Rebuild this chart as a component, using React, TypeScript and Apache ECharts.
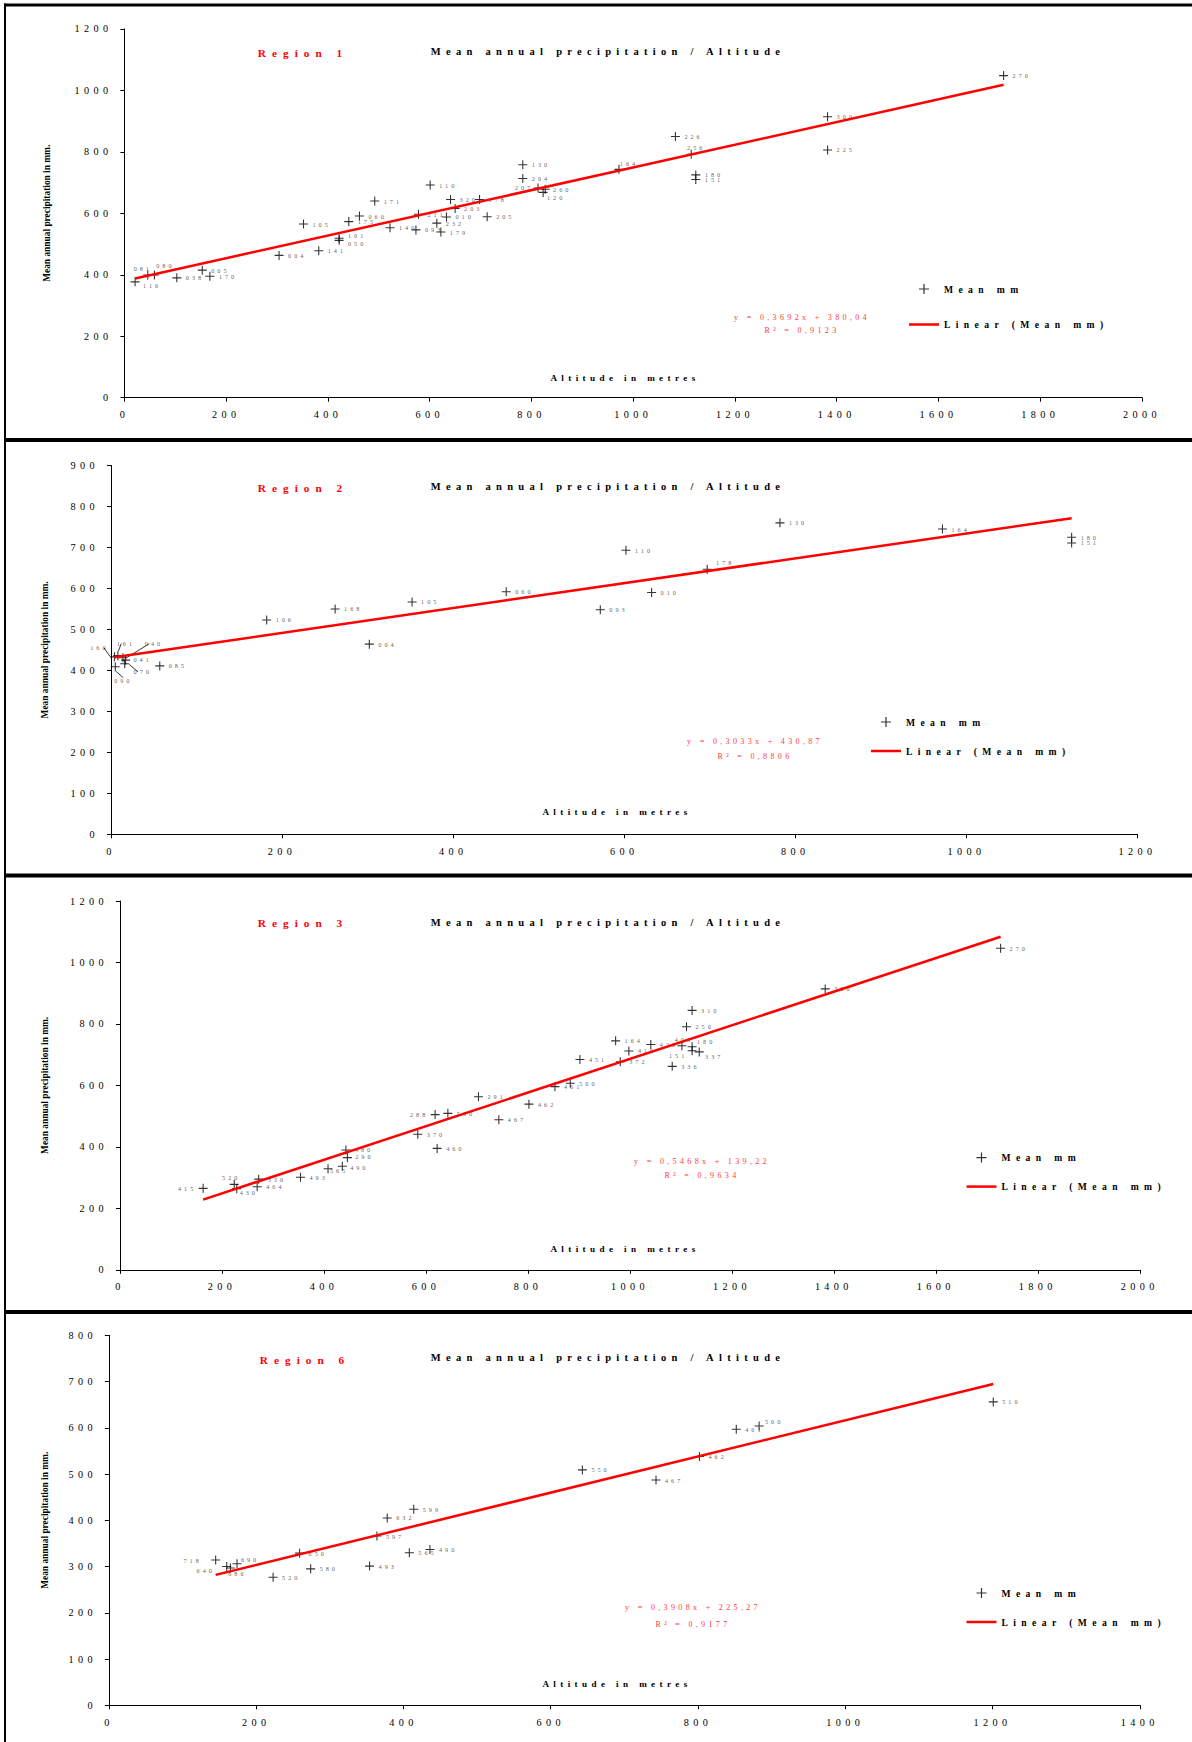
import React, { useEffect, useRef } from 'react';
import * as echarts from 'echarts';

// ---------------- DATA ----------------
// Region 1
const r1Codes = ['116','081','080','038','005','170','004','141','105','101','050','175','060','171','140','093','211','110','232','179','010','203','320','178','205','130','204','207','260','120','164','226','256','180','151','300','225','270'];
const r1Altitude = [21,46,59,103,153,168,304,382,352,422,422,441,462,492,522,573,578,601,614,622,633,650,641,698,713,783,783,813,827,823,972,1083,1114,1123,1123,1382,1382,1728];
const r1Mean = [377,399,399,390,415,395,463,478,565,519,512,573,591,640,553,546,597,692,568,539,588,616,645,645,589,758,713,682,678,668,743,850,792,725,710,914,806,1048];

// Region 2
const r2Codes = ['090','160','161','040','041','070','085','106','168','004','105','060','093','110','010','178','130','164','180','151'];
const r2Altitude = [5,4,8,14,17,16,57,182,262,302,352,462,572,602,632,697,782,972,1123,1123];
const r2Mean = [409,433,436,431,425,416,411,523,550,464,567,592,548,693,590,647,760,745,725,711];

// Region 3
const r3Codes = ['415','520','430','330','464','493','565','490','290','480','370','460','288','550','291','467','462','461','500','451','372','410','164','420','403','180','151','337','336','250','310','300','270'];
const r3Altitude = [163,224,229,272,269,354,408,436,446,443,584,622,618,643,703,743,802,853,883,902,981,998,972,1041,1102,1122,1122,1136,1083,1111,1122,1383,1727];
const r3Mean = [265,278,264,295,270,301,329,337,365,390,441,395,505,509,563,488,539,596,607,684,677,712,745,733,729,726,713,709,662,791,844,914,1046];

// Region 6
const r6Codes = ['718','640','686','690','520','650','580','493','597','632','599','565','490','550','467','462','461','500','510'];
const r6Altitude = [145,160,165,174,223,259,274,354,364,378,414,408,436,643,743,802,852,883,1201];
const r6Mean = [314,300,297,306,277,329,295,301,366,405,424,330,337,509,487,538,597,604,656];

const regionNames = ['Region 1', 'Region 2', 'Region 3', 'Region 6'];
const trendSlopes = [0.3692, 0.3033, 0.5468, 0.3908];
const trendIntercepts = [380.04, 430.87, 139.22, 225.27];
const equationTexts = ['y = 0,3692x + 380,04', 'y = 0,3033x + 430,87', 'y = 0,5468x + 139,22', 'y = 0,3908x + 225,27'];
const r2Texts = ['R² = 0,9123', 'R² = 0,8806', 'R² = 0,9634', 'R² = 0,9177'];
const yMaxes = [1200, 900, 1200, 800];
const yIntervals = [200, 100, 200, 100];
const xMaxes = [2000, 1200, 2000, 1400];
const xIntervals = [200, 200, 200, 200];
const chartTitle = 'Mean annual precipitation / Altitude';
const xTitle = 'Altitude in metres';
const yTitle = 'Mean annual precipitation in mm.';
const scatterName = 'Mean mm';
const lineName = 'Linear (Mean mm)';

// ---------------- STYLE / LAYOUT ----------------
const FONT = 'Liberation Serif';
const CROSS = 'path://M0,4.4H10V5.6H0Z M4.4,0H5.6V10H4.4Z';
const LINE_ICON = 'path://M0,0H12V1H0Z';

// label centre offsets (px) for labels not placed to the right of their marker
const labelPlacement: Record<string, [number, number]>[] = [
  { '116': [17, 4], '081': [-5, -7], '080': [11, -10], '101': [18, -3], '050': [18, 3], '207': [-14, -1], '260': [17, 0], '120': [13, 5], '164': [10, -6], '256': [5, -7] },
  { '160': [-15, -9], '161': [8, -12], '040': [31, -14], '041': [17, -1], '070': [18, 8], '090': [8, 14], '178': [18, -7] },
  { '415': [-16, 0], '520': [-3, -7], '430': [12, 4], '288': [-16, 0], '403': [2, -6], '151': [-14, 5], '180': [14, -5], '337': [15, 5], '290': [17, -1.5], '490': [17, 1.5], '565': [11, 2] },
  { '718': [-23, 0], '640': [-21, 4], '686': [7, 6], '690': [13, -4], '500': [15, -4] },
];
const leaderCodes = [[], ['160', '161', '040', '070', '090'], [], []];

const layouts = [
  { grid: { left: 124.4, top: 28.9, width: 1017.6, height: 368.8 }, nameGap: 73, region: [303, 53.3], title: [608, 51], xt: [625, 377.7], eq: [802, 317.7], r2: [802, 330], legend: { left: 909, top: 284, gap: 25.5 } },
  { grid: { left: 111, top: 465.5, width: 1026.5, height: 368.8 }, nameGap: 61.5, region: [303, 487.7], title: [608, 486.6], xt: [617, 812], eq: [755, 741], r2: [755, 756.5], legend: { left: 871, top: 717, gap: 19 } },
  { grid: { left: 120, top: 901, width: 1019.8, height: 368.8 }, nameGap: 70.5, region: [303, 923.2], title: [608, 922], xt: [625, 1248.7], eq: [702, 1161], r2: [702, 1175.4], legend: { left: 966.5, top: 1152.6, gap: 19 } },
  { grid: { left: 108.9, top: 1335.3, width: 1030.9, height: 370 }, nameGap: 59.5, region: [305, 1359.8], title: [608, 1357.6], xt: [617, 1684.3], eq: [693, 1607.6], r2: [693, 1624.3], legend: { left: 966.5, top: 1588, gap: 19 } },
];

const css = `
.pchart text[style*="6.2px"] { letter-spacing: 3px; }
.pchart text[style*="8.1px"] { letter-spacing: 3.3px; }
.pchart text[style*="9.1px"] { letter-spacing: 4.4px; }
.pchart text[style*="9.6px"] { letter-spacing: 5.4px; }
.pchart text[style*="10.2px"] { letter-spacing: 4.4px; }
.pchart text[style*="10.5px"] { letter-spacing: 5.3px; }
.pchart text[style*="11.3px"] { letter-spacing: 6px; }
`;

function buildOption() {
  const panels = [
    { codes: r1Codes, alt: r1Altitude, mean: r1Mean },
    { codes: r2Codes, alt: r2Altitude, mean: r2Mean },
    { codes: r3Codes, alt: r3Altitude, mean: r3Mean },
    { codes: r6Codes, alt: r6Altitude, mean: r6Mean },
  ];
  const grid: any[] = [];
  const xAxis: any[] = [];
  const yAxis: any[] = [];
  const series: any[] = [];
  const legend: any[] = [];
  const graphic: any[] = [];

  // frame lines
  graphic.push({ type: 'rect', shape: { x: 4, y: 3.5, width: 2, height: 1742 }, style: { fill: '#000' }, silent: true });
  graphic.push({ type: 'rect', shape: { x: 4, y: 3.5, width: 1188, height: 3 }, style: { fill: '#000' }, silent: true });
  [438, 873.5, 1310].forEach((y) => {
    graphic.push({ type: 'rect', shape: { x: 4, y, width: 1188, height: 4 }, style: { fill: '#000' }, silent: true });
  });

  const txt = (x: number, y: number, text: string, size: number, color: string, bold: boolean) => ({
    type: 'text', x, y, silent: true,
    style: { text, fill: color, fontSize: size, fontWeight: bold ? 'bold' : 'normal', fontFamily: FONT, textAlign: 'center', textVerticalAlign: 'middle', align: 'center', verticalAlign: 'middle' },
  });

  const plain = (v: number) => String(v);

  panels.forEach((p, i) => {
    const L = layouts[i];
    grid.push({ ...L.grid, containLabel: false, outerBoundsMode: 'none' });
    xAxis.push({
      type: 'value', gridIndex: i, min: 0, max: xMaxes[i], interval: xIntervals[i],
      axisLine: { show: true, onZero: false, lineStyle: { color: '#000', width: 1 } },
      axisTick: { show: true, length: 4, lineStyle: { color: '#000' } },
      axisLabel: { fontSize: 10.2, color: '#000', fontFamily: FONT, margin: 12, showMinLabel: true, showMaxLabel: true, formatter: plain },
      splitLine: { show: false },
    });
    yAxis.push({
      type: 'value', gridIndex: i, min: 0, max: yMaxes[i], interval: yIntervals[i],
      name: yTitle, nameLocation: 'middle', nameRotate: 90, nameGap: L.nameGap,
      nameTextStyle: { fontSize: 9.4, fontWeight: 'bold', color: '#000', fontFamily: FONT },
      axisLine: { show: true, onZero: false, lineStyle: { color: '#000', width: 1 } },
      axisTick: { show: true, length: 4, lineStyle: { color: '#000' } },
      axisLabel: { fontSize: 10.2, color: '#000', fontFamily: FONT, margin: 12, showMinLabel: true, showMaxLabel: true, formatter: plain },
      splitLine: { show: false },
    });

    const place = labelPlacement[i];
    const leaders = leaderCodes[i];
    const mkItem = (k: number) => {
      const c = p.codes[k];
      const item: any = { name: c, value: [p.alt[k], p.mean[k]] };
      const off = place[c];
      if (off) item.label = { position: 'inside', offset: off, align: 'center', verticalAlign: 'middle' };
      return item;
    };
    const mainItems: any[] = [];
    const leaderItems: any[] = [];
    p.codes.forEach((c, k) => {
      if (leaders.indexOf(c) >= 0) leaderItems.push(mkItem(k));
      else mainItems.push(mkItem(k));
    });
    const scatterBase = {
      type: 'scatter', name: scatterName, xAxisIndex: i, yAxisIndex: i,
      symbol: CROSS, symbolSize: 9, itemStyle: { color: '#000' }, z: 2, silent: true,
      label: { show: true, formatter: '{b}', position: 'right', distance: 4.5, fontSize: 6.2, color: '#333', fontFamily: FONT },
      emphasis: { disabled: true },
    };
    series.push({ ...scatterBase, data: mainItems });
    if (leaderItems.length) {
      series.push({ ...scatterBase, data: leaderItems, labelLine: { show: true, lineStyle: { color: '#000', width: 0.8 } } });
    }
    const xs = p.alt;
    const x0 = Math.min(...xs);
    const x1 = Math.max(...xs);
    const a = trendSlopes[i];
    const b = trendIntercepts[i];
    series.push({
      type: 'line', name: lineName, xAxisIndex: i, yAxisIndex: i,
      data: [[x0, a * x0 + b], [x1, a * x1 + b]],
      symbol: 'none', showSymbol: false, z: 3, silent: true,
      lineStyle: { color: '#ff0000', width: 2.5 }, itemStyle: { color: '#ff0000' },
      emphasis: { disabled: true },
    });

    legend.push({
      show: true, orient: 'vertical', left: L.legend.left, top: L.legend.top, padding: 0,
      itemWidth: 30, itemHeight: 10, itemGap: L.legend.gap, selectedMode: false,
      data: [{ name: scatterName }, { name: lineName, icon: LINE_ICON, itemStyle: { color: '#ff0000' } }],
      textStyle: { fontSize: 9.6, fontWeight: 'bold', color: '#000', fontFamily: FONT },
    });

    graphic.push(txt(L.region[0], L.region[1], regionNames[i], 11.3, '#ff0000', true));
    graphic.push(txt(L.title[0], L.title[1], chartTitle, 10.5, '#000', true));
    graphic.push(txt(L.xt[0], L.xt[1], xTitle, 9.1, '#000', true));
    graphic.push(txt(L.eq[0], L.eq[1], equationTexts[i], 8.1, '#ff3b3b', false));
    graphic.push(txt(L.r2[0], L.r2[1], r2Texts[i], 8.1, '#ff3b3b', false));
  });

  return {
    animation: false,
    backgroundColor: '#fff',
    textStyle: { fontFamily: FONT },
    grid, xAxis, yAxis, series, legend, graphic,
  };
}

export default function App() {
  const ref = useRef<HTMLDivElement>(null);
  useEffect(() => {
    if (!ref.current) return;
    const chart = echarts.init(ref.current, undefined, { renderer: 'svg' });
    chart.setOption(buildOption() as any);
    return () => chart.dispose();
  }, []);
  return (
    <>
      <style>{css}</style>
      <div
        ref={ref}
        className="pchart"
        style={{ position: 'absolute', left: 0, top: 0, width: 1192, height: 1742, background: '#fff' }}
      />
    </>
  );
}
